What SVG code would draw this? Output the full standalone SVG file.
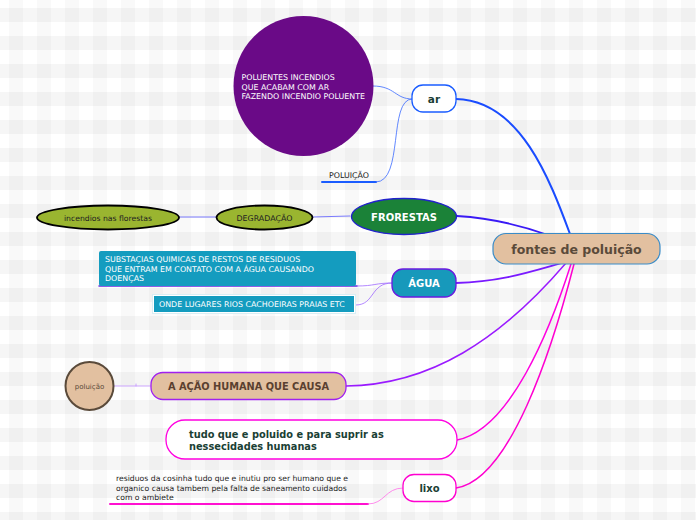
<svg xmlns="http://www.w3.org/2000/svg" width="696" height="520" viewBox="0 0 696 520">
<defs>
<pattern id="bg" width="28" height="28" patternUnits="userSpaceOnUse">
<rect width="28" height="28" fill="#ffffff"/>
<rect x="9" y="0" width="14" height="28" fill="#000" fill-opacity="0.025"/>
<rect x="0" y="8" width="28" height="14" fill="#000" fill-opacity="0.035"/>
</pattern>
<style>
text{font-family:"DejaVu Sans","Liberation Sans",sans-serif}
.small{font-size:7.9px}
.low{font-size:7.7px}
.wh{fill:#ffffff}
.dk{fill:#222222}
.bold{font-weight:bold}
.c{fill:none;stroke-linecap:round}
</style>
</defs>
<rect width="696" height="520" fill="url(#bg)"/>

<g id="connectors">
<path class="c" d="M456,99 C520,100 550,180 570,234" stroke="#1a4cff" stroke-width="2"/>
<path class="c" d="M457,216 C490,218 520,225 548,235" stroke="#3a1af5" stroke-width="1.8"/>
<path class="c" d="M456,283 C500,282 530,272 562,263" stroke="#7a1aff" stroke-width="1.8"/>
<path class="c" d="M346,386 C430,385 500,340 566,263" stroke="#9a1aff" stroke-width="1.5"/>
<path class="c" d="M457,440 C510,430 550,330 571,264" stroke="#ff00e0" stroke-width="1.5"/>
<path class="c" d="M456,488 C510,480 552,350 574,264" stroke="#ff00d0" stroke-width="1.5"/>
<path class="c" d="M373,86 C395,86 395,99 412,99" stroke="#3a6aff" stroke-width="0.8"/>
<path class="c" d="M322,182 L376,182" stroke="#1a5cff" stroke-width="2"/>
<path class="c" d="M376,182 C404,182 388,99 412,99" stroke="#3a6aff" stroke-width="0.8"/>
<path class="c" d="M313,217 L350,216" stroke="#5a5aff" stroke-width="0.8"/>
<path class="c" d="M179,217 L216,217" stroke="#5a5aff" stroke-width="0.8"/>
<path class="c" d="M99,286 L357,286" stroke="#6a2ae0" stroke-width="1.5"/>
<path class="c" d="M357,286 C375,286 375,283 392,283" stroke="#a06aff" stroke-width="0.8"/>
<path class="c" d="M356,305 C375,305 370,283 392,283" stroke="#a06aff" stroke-width="0.8"/>
<path class="c" d="M113,386 L151,386" stroke="#c090ff" stroke-width="0.8"/>
<path class="c" d="M136,384 L136,386" stroke="#c090ff" stroke-width="0.8"/>
<path class="c" d="M110,504 L368,504" stroke="#ff10d0" stroke-width="2"/>
<path class="c" d="M368,504 C385,504 385,488 403,488" stroke="#ff70e8" stroke-width="0.8"/>
</g>

<g id="center">
<rect x="493" y="233.5" width="167" height="30.5" rx="13" fill="#e2c0a0" stroke="#3a8cc8" stroke-width="1.2"/>
<text x="576.5" y="253.5" text-anchor="middle" class="bold" font-size="12.5" fill="#5a4a3a">fontes de poluição</text>
</g>

<g id="ar">
<rect x="412" y="85" width="44" height="27" rx="11" fill="#ffffff" stroke="#1a5cff" stroke-width="1.3"/>
<text x="434" y="103" text-anchor="middle" class="bold" font-size="10.5" fill="#1a3f35">ar</text>
</g>

<g id="poluentes">
<circle cx="303.5" cy="86" r="70" fill="#6a0a87"/>
<text class="small wh" x="241.5" y="80">POLUENTES INCENDIOS</text>
<text class="small wh" x="241.5" y="89.5">QUE ACABAM COM AR</text>
<text class="small wh" x="241.5" y="99">FAZENDO INCENDIO POLUENTE</text>
</g>

<g id="poluicao-label">
<text class="small dk" x="329" y="177.5">POLUIÇÃO</text>
</g>

<g id="florestas">
<ellipse cx="404" cy="216.5" rx="52.5" ry="18" fill="#1b8238" stroke="#2222cc" stroke-width="1.3"/>
<text x="404" y="220.5" text-anchor="middle" class="bold wh" font-size="10">FRORESTAS</text>
</g>

<g id="degradacao">
<ellipse cx="264.5" cy="217.5" rx="48" ry="12" fill="#9ab530" stroke="#000" stroke-width="1.8"/>
<text x="264.5" y="220.5" text-anchor="middle" class="small dk">DEGRADAÇÃO</text>
</g>

<g id="incendios">
<ellipse cx="108" cy="217.5" rx="71" ry="12" fill="#9ab530" stroke="#000" stroke-width="1.8"/>
<text x="108" y="220.5" text-anchor="middle" class="low dk">incendios nas florestas</text>
</g>

<g id="agua">
<rect x="392" y="269" width="64" height="28" rx="11" fill="#1799bb" stroke="#6a1ae0" stroke-width="1.3"/>
<text x="424" y="287" text-anchor="middle" class="bold wh" font-size="10">ÁGUA</text>
</g>

<g id="substancias">
<rect x="99" y="251" width="257" height="35" rx="2" fill="#149cbf"/>
<text class="small wh" x="105" y="262">SUBSTAÇIAS QUIMICAS DE RESTOS DE RESIDUOS</text>
<text class="small wh" x="105" y="271.5">QUE ENTRAM EM CONTATO COM A ÁGUA CAUSANDO</text>
<text class="small wh" x="105" y="281">DOENÇAS</text>
</g>

<g id="onde">
<rect x="152.5" y="294.5" width="203" height="19" fill="#ffffff" stroke="#d8eef4" stroke-width="1"/>
<rect x="154" y="296" width="200" height="16" fill="#149cbf"/>
<text class="small wh" x="159" y="307">ONDE LUGARES RIOS CACHOEIRAS PRAIAS ETC</text>
</g>

<g id="acao">
<rect x="151" y="372.5" width="195" height="27" rx="12" fill="#e2c0a0" stroke="#a020f0" stroke-width="1.3"/>
<text x="248.5" y="390" text-anchor="middle" class="bold" font-size="9.8" fill="#5a4030">A AÇÃO HUMANA QUE CAUSA</text>
</g>

<g id="poluicao-circle">
<circle cx="89.5" cy="386" r="24" fill="#e2c0a0" stroke="#5a4a3a" stroke-width="2"/>
<text x="89.5" y="388.5" text-anchor="middle" font-size="7" fill="#5a4a3a">poluição</text>
</g>

<g id="tudo">
<rect x="166" y="420" width="291" height="39" rx="19" fill="#ffffff" stroke="#ff00e0" stroke-width="1.3"/>
<text class="bold" font-size="9.8" fill="#1a3f35" x="189" y="438">tudo que e poluido e para suprir as</text>
<text class="bold" font-size="9.8" fill="#1a3f35" x="189" y="450">nessecidades humanas</text>
</g>

<g id="lixo">
<rect x="403" y="474.5" width="53" height="27" rx="11" fill="#ffffff" stroke="#ff00d0" stroke-width="1.3"/>
<text x="429.5" y="492" text-anchor="middle" class="bold" font-size="10" fill="#1a3f35">lixo</text>
</g>

<g id="residuos">
<text class="low dk" x="116" y="481">residuos da cosinha tudo que e inutiu pro ser humano que e</text>
<text class="low dk" x="116" y="490.5">organico causa tambem pela falta de saneamento cuidados</text>
<text class="low dk" x="116" y="500">com o ambiete</text>
</g>
</svg>
